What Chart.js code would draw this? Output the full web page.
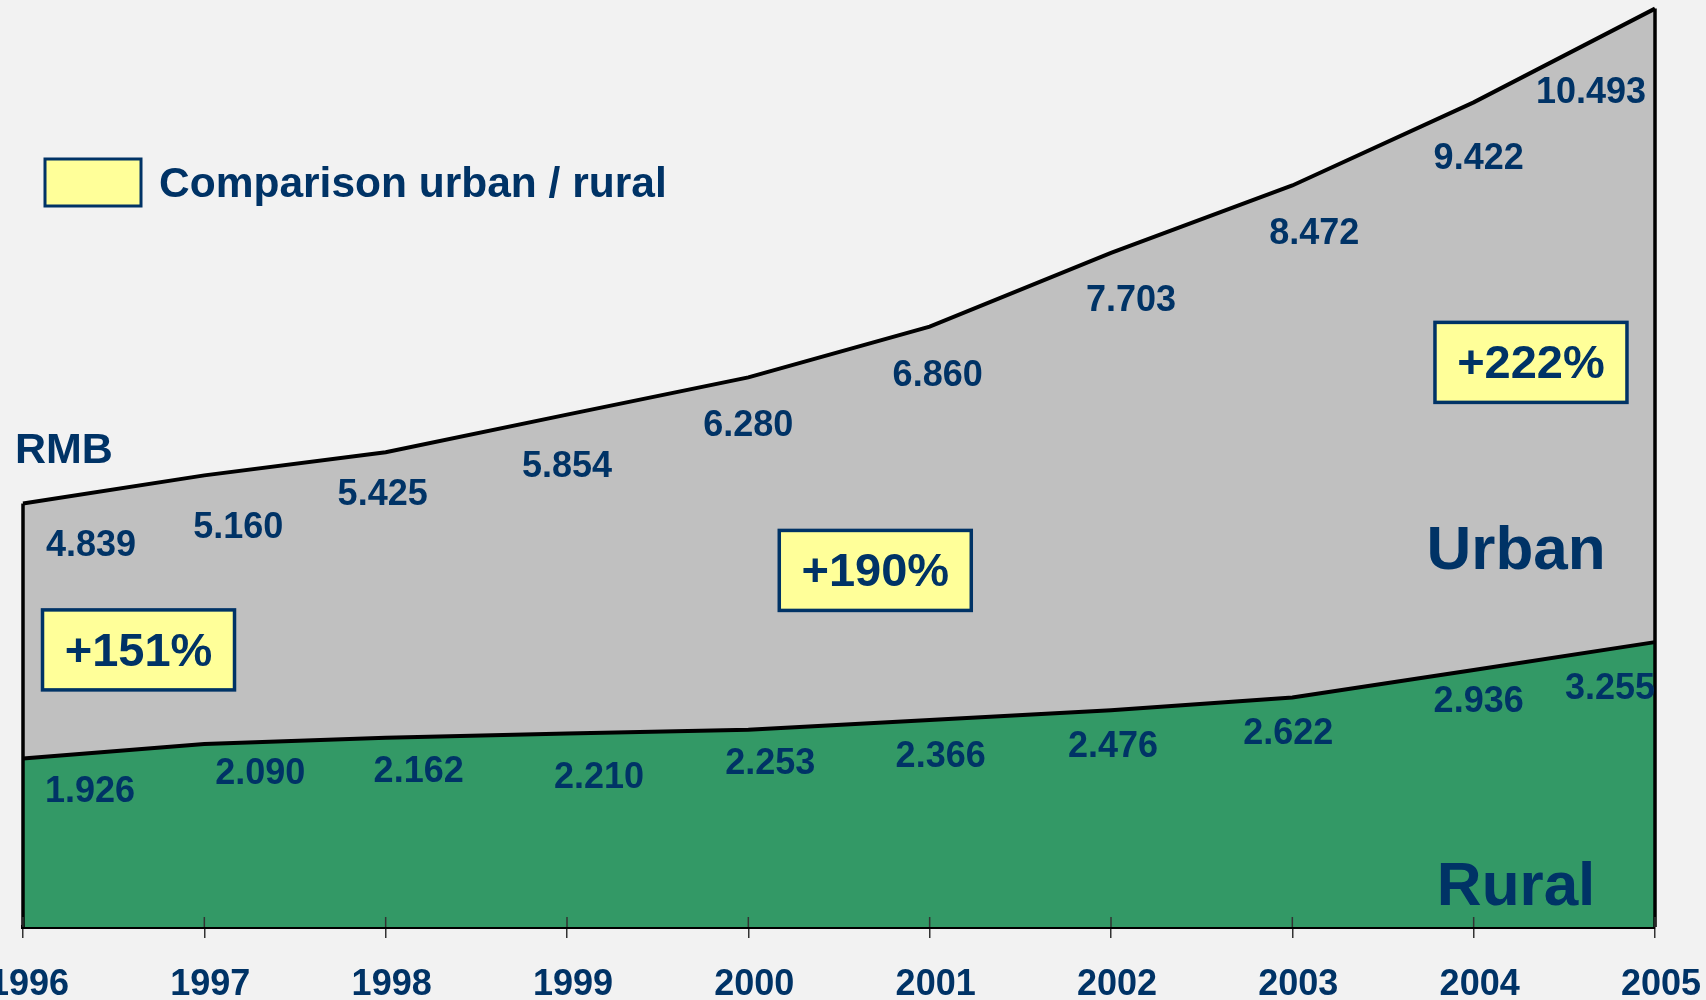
<!DOCTYPE html>
<html lang="en">
<head>
<meta charset="UTF-8">
<title>Comparison urban / rural</title>
<script src="https://cdn.jsdelivr.net/npm/chart.js"></script>
<style>
  html, body { margin: 0; padding: 0; background: #f2f2f2; }
  #wrap { width: 1706px; height: 1000px; position: relative; }
</style>
</head>
<body>
<div id="wrap"><canvas id="chart"></canvas></div>
<script>
// data
const years = ['1996', '1997', '1998', '1999', '2000', '2001', '2002', '2003', '2004', '2005'];
const urban = [4.839, 5.160, 5.425, 5.854, 6.280, 6.860, 7.703, 8.472, 9.422, 10.493];
const rural = [1.926, 2.090, 2.162, 2.210, 2.253, 2.366, 2.476, 2.622, 2.936, 3.255];
const growth = ['+151%', '+190%', '+222%'];
const seriesNames = ['Urban', 'Rural'];
const unitText = 'RMB';
const legendText = 'Comparison urban / rural';

const NAVY = '#003366';
const FONT = '"Liberation Sans", Arial, sans-serif';

// label nudges (px from the point) - hand placed in the original
const urbanShift = [[68, 43], [34, 53], [-3, 43], [0, 52], [0, 49], [8, 49], [20, 48], [22, 49], [5, 57], [-64, 84]];
const ruralShift = [[67, 34], [56, 30], [33, 34], [32, 45], [22, 34], [11, 37], [2, 37], [-4, 37], [5, 32], [-45, 47]];

// boxes in axis units: [x index, y value]
const growthPos = [[0.637, 3.166], [4.70, 4.074], [8.316, 6.451]];

const decor = {
  id: 'decor',
  afterDatasetsDraw(chart) {
    const ctx = chart.ctx;
    const xs = chart.scales.x, ys = chart.scales.y;
    const bottom = ys.getPixelForValue(0);
    ctx.save();

    // side edges of the area
    ctx.strokeStyle = '#000';
    ctx.lineWidth = 3.5;
    ctx.beginPath();
    ctx.moveTo(xs.getPixelForValue(0), bottom);
    ctx.lineTo(xs.getPixelForValue(0), ys.getPixelForValue(urban[0]));
    const last = years.length - 1;
    ctx.moveTo(xs.getPixelForValue(last), bottom);
    ctx.lineTo(xs.getPixelForValue(last), ys.getPixelForValue(urban[last]));
    ctx.stroke();

    // inner part of tick marks
    ctx.strokeStyle = '#333';
    ctx.lineWidth = 1.5;
    ctx.beginPath();
    years.forEach((y, i) => {
      const px = xs.getPixelForValue(i);
      ctx.moveTo(px, bottom - 10);
      ctx.lineTo(px, bottom);
    });
    ctx.stroke();

    // value labels
    ctx.fillStyle = NAVY;
    ctx.font = 'bold 36px ' + FONT;
    ctx.textAlign = 'center';
    ctx.textBaseline = 'middle';
    urban.forEach((v, i) => {
      ctx.fillText(v.toFixed(3), xs.getPixelForValue(i) + urbanShift[i][0], ys.getPixelForValue(v) + urbanShift[i][1]);
    });
    rural.forEach((v, i) => {
      ctx.fillText(v.toFixed(3), xs.getPixelForValue(i) + ruralShift[i][0], ys.getPixelForValue(v) + ruralShift[i][1]);
    });

    // growth boxes
    growth.forEach((t, i) => {
      const cx = xs.getPixelForValue(growthPos[i][0]);
      const cy = ys.getPixelForValue(growthPos[i][1]);
      ctx.fillStyle = '#ffff99';
      ctx.fillRect(cx - 96, cy - 40, 192, 80);
      ctx.strokeStyle = NAVY;
      ctx.lineWidth = 3.5;
      ctx.strokeRect(cx - 96, cy - 40, 192, 80);
      ctx.fillStyle = NAVY;
      ctx.font = 'bold 47px ' + FONT;
      ctx.fillText(t, cx, cy + 3);
    });

    // series names
    ctx.font = 'bold 62px ' + FONT;
    ctx.fillText(seriesNames[0], xs.getPixelForValue(8.234), ys.getPixelForValue(4.32) + 3);
    ctx.fillText(seriesNames[1], xs.getPixelForValue(8.234), ys.getPixelForValue(0.48) + 3);

    // unit
    ctx.textAlign = 'left';
    ctx.font = 'bold 43px ' + FONT;
    ctx.fillText(unitText, 15, 451);

    // legend-like title
    ctx.fillStyle = '#ffff99';
    ctx.fillRect(45, 159, 96, 47);
    ctx.strokeStyle = NAVY;
    ctx.lineWidth = 3;
    ctx.strokeRect(45, 159, 96, 47);
    ctx.fillStyle = NAVY;
    ctx.font = 'bold 42.5px ' + FONT;
    ctx.fillText(legendText, 159, 185);

    ctx.restore();
  }
};

new Chart(document.getElementById('chart'), {
  type: 'line',
  data: {
    labels: years,
    datasets: [
      {
        label: seriesNames[1],
        data: rural,
        borderColor: '#000',
        borderWidth: 4,
        backgroundColor: '#339966',
        fill: 'origin',
        pointRadius: 0,
        tension: 0
      },
      {
        label: seriesNames[0],
        data: urban,
        borderColor: '#000',
        borderWidth: 4,
        backgroundColor: '#c0c0c0',
        fill: '-1',
        pointRadius: 0,
        tension: 0
      }
    ]
  },
  options: {
    responsive: true,
    maintainAspectRatio: false,
    animation: false,
    clip: false,
    layout: {
      autoPadding: false,
      padding: { left: 23, right: 51, top: 8, bottom: -32 }
    },
    plugins: {
      legend: { display: false },
      tooltip: { enabled: false }
    },
    scales: {
      x: {
        offset: false,
        afterFit(scale) {
          // let the end labels run off the edges like in the original
          scale.paddingLeft = 0;
          scale.paddingRight = 0;
        },
        grid: {
          drawOnChartArea: false,
          drawTicks: true,
          tickLength: 11,
          color: '#333',
          lineWidth: 1.5
        },
        border: { display: true, color: '#000', width: 4 },
        ticks: {
          color: NAVY,
          padding: 29,
          labelOffset: 6,
          maxRotation: 0,
          autoSkip: false,
          font: { family: FONT, size: 36, weight: 'bold', lineHeight: 1 }
        }
      },
      y: {
        display: false,
        min: 0,
        max: 10.5
      }
    }
  },
  plugins: [decor]
});
</script>
</body>
</html>
